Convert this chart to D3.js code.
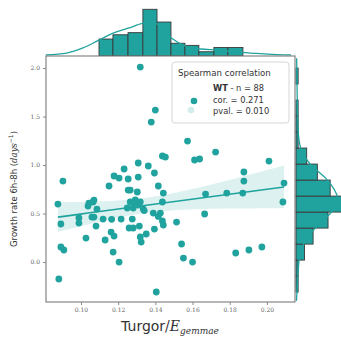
<!DOCTYPE html>
<html>
<head>
<meta charset="utf-8">
<script src="https://cdn.jsdelivr.net/npm/d3@7"></script>
<style>
  body { margin: 0; background: #fff; }
  svg { display: block; }
</style>
</head>
<body>
<script>
// scatter values (turgor / E, growth rate)
var turgor = [0.1319,0.1400,0.1378,0.1573,0.1724,0.1438,0.1454,0.1611,0.1638,0.2011,
  0.1308,0.1362,0.1232,0.1395,0.1876,0.1178,0.1205,0.1254,0.1308,0.0903,
  0.1876,0.2092,0.1151,0.1416,0.1254,0.1265,0.1303,0.1443,0.1670,0.1784,
  0.1870,0.1043,0.1065,0.1070,0.1038,0.1265,0.1292,0.1319,0.1308,0.1438,
  0.0876,0.2086,0.1086,0.1281,0.1335,0.1249,0.1389,0.1427,0.1438,0.1443,
  0.1514,0.1665,0.0892,0.0989,0.0989,0.1070,0.1119,0.1216,0.1276,0.1081,
  0.1259,0.1281,0.1314,0.1351,0.1395,0.1319,0.1324,0.1162,0.1178,0.1027,
  0.1130,0.1541,0.0892,0.0908,0.1173,0.1551,0.1205,0.1600,0.1832,0.1903,
  0.1973,0.0881,0.1405,0.1059,0.1292,0.1340,0.1165,0.1416];
var growth = [2.010,1.567,1.443,1.247,1.134,1.093,1.082,1.052,1.062,1.041,
  1.021,0.990,0.959,0.918,0.928,0.887,0.866,0.856,0.876,0.835,
  0.835,0.814,0.784,0.784,0.742,0.742,0.722,0.711,0.701,0.711,
  0.711,0.608,0.619,0.639,0.577,0.619,0.608,0.619,0.588,0.619,
  0.598,0.619,0.546,0.557,0.546,0.557,0.505,0.505,0.423,0.381,
  0.412,0.495,0.392,0.402,0.454,0.464,0.443,0.443,0.443,0.371,
  0.351,0.351,0.371,0.289,0.340,0.258,0.206,0.309,0.268,0.247,
  0.227,0.186,0.155,0.124,0.103,0.041,0.000,0.000,0.093,0.124,
  0.155,-0.175,-0.309,0.464,0.640,0.530,0.440,0.470];

// marginal histograms
var topEdges = [0.1097,0.1172,0.1253,0.1333,0.1409,0.1484,0.1559,0.1634,0.1715,0.1790,0.1871];
var topCounts = [8,10,11,22,16,6,5,2,4,4];
var rightEdges = [-0.31,-0.145,0.02,0.185,0.35,0.515,0.68,0.845,1.01,1.175,1.34,1.505,1.67,1.835,2.0];
var rightCounts = [1,1,4,8,15,24,16,10,5,1,1,1,0,1];

// kde curves of the marginals, in count units
var topKdeX = [0.0811,0.0924,0.1011,0.1097,0.1173,0.1254,0.1335,0.1373,0.1411,0.1486,0.1562,0.1643,0.1735,0.1822,0.1914,0.2005,0.2130];
var topKdeY = [0.5,1.4,3.8,7.5,10.8,13.1,15.5,16,15,8.5,4.7,3.3,2.8,1.9,1.4,0.9,0.5];
var rightKdeY = [-0.40,-0.3,-0.1,0.1,0.2,0.3,0.43,0.55,0.62,0.7,0.85,1.0,1.17,1.3,1.5,1.8,2.1];
var rightKdeX = [0.2,0.5,1,2,4,7,13,18,20,19,14.5,7,2.3,1.2,0.8,0.5,0.3];

var xTicks = [0.10,0.12,0.14,0.16,0.18,0.20];
var yTicks = [0.0,0.5,1.0,1.5,2.0];
var legendLines = ['cor. = 0.271', 'pval. = 0.010'];

var teal = '#20a39e';
var width = 341, height = 341;

var svg = d3.select('body').append('svg').attr('width', width).attr('height', height);

var x = d3.scaleLinear().domain([0.0812, 0.2151]).range([46, 295]);
var y = d3.scaleLinear().domain([-0.412, 2.124]).range([302, 56]);
var topC = d3.scaleLinear().domain([0, 22]).range([56, 9.3]);
var rightC = d3.scaleLinear().domain([0, 22]).range([296, 343]);

// top histogram
svg.append('g').selectAll('rect')
  .data(topCounts)
  .enter()
  .append('rect')
  .attr('x', function (d, i) { return x(topEdges[i]); })
  .attr('width', function (d, i) { return x(topEdges[i + 1]) - x(topEdges[i]); })
  .attr('y', function (d) { return topC(d); })
  .attr('height', function (d) { return topC(0) - topC(d); })
  .attr('fill', teal)
  .attr('stroke', '#3a3a3a')
  .attr('stroke-width', 0.9);

svg.append('path')
  .datum(topKdeX)
  .attr('d', d3.line()
    .x(function (d) { return x(d); })
    .y(function (d, i) { return topC(topKdeY[i]); })
    .curve(d3.curveMonotoneX))
  .attr('fill', 'none')
  .attr('stroke', teal)
  .attr('stroke-width', 1.3);

// right histogram
svg.append('g').selectAll('rect')
  .data(rightCounts)
  .enter()
  .append('rect')
  .attr('x', rightC(0))
  .attr('width', function (d) { return rightC(d) - rightC(0); })
  .attr('y', function (d, i) { return y(rightEdges[i + 1]); })
  .attr('height', function (d, i) { return y(rightEdges[i]) - y(rightEdges[i + 1]); })
  .attr('fill', teal)
  .attr('stroke', '#3a3a3a')
  .attr('stroke-width', function (d) { return d > 0 ? 0.9 : 0; });

svg.append('path')
  .datum(rightKdeY)
  .attr('d', d3.line()
    .y(function (d) { return y(d); })
    .x(function (d, i) { return rightC(rightKdeX[i]); })
    .curve(d3.curveMonotoneY))
  .attr('fill', 'none')
  .attr('stroke', teal)
  .attr('stroke-width', 1.3);

// main panel
svg.append('rect')
  .attr('x', 46).attr('y', 56).attr('width', 249).attr('height', 246)
  .attr('fill', '#fff');

// regression fit + 95% band from the data
var n = turgor.length;
var mx = d3.mean(turgor), my = d3.mean(growth);
var sxx = d3.sum(turgor, function (d) { return (d - mx) * (d - mx); });
var sxy = d3.sum(turgor, function (d, i) { return (d - mx) * (growth[i] - my); });
var slope = sxy / sxx, icpt = my - slope * mx;
var s = Math.sqrt(d3.sum(turgor, function (d, i) {
  var r = growth[i] - (icpt + slope * d); return r * r; }) / (n - 2));
var xs = d3.range(0, 41).map(function (i) {
  return d3.min(turgor) + i * (d3.max(turgor) - d3.min(turgor)) / 40; });

svg.append('path')
  .datum(xs)
  .attr('d', d3.area()
    .x(function (d) { return x(d); })
    .y0(function (d) { return y(icpt + slope * d - 1.99 * s * Math.sqrt(1 / n + (d - mx) * (d - mx) / sxx)); })
    .y1(function (d) { return y(icpt + slope * d + 1.99 * s * Math.sqrt(1 / n + (d - mx) * (d - mx) / sxx)); }))
  .attr('fill', teal)
  .attr('fill-opacity', 0.15);

svg.append('g').selectAll('circle')
  .data(turgor)
  .enter()
  .append('circle')
  .attr('cx', function (d) { return x(d); })
  .attr('cy', function (d, i) { return y(growth[i]); })
  .attr('r', 3.4)
  .attr('fill', teal);

svg.append('path')
  .datum(xs)
  .attr('d', d3.line()
    .x(function (d) { return x(d); })
    .y(function (d) { return y(icpt + slope * d); }))
  .attr('fill', 'none')
  .attr('stroke', teal)
  .attr('stroke-width', 1.6);

svg.append('rect')
  .attr('x', 46).attr('y', 56).attr('width', 249).attr('height', 246)
  .attr('fill', 'none')
  .attr('stroke', '#7a7a7a')
  .attr('stroke-width', 1.1);

// axes
var xAxis = svg.append('g')
  .attr('transform', 'translate(0,302)')
  .call(d3.axisBottom(x).tickValues(xTicks).tickSize(3).tickFormat(d3.format('.2f')));
var yAxis = svg.append('g')
  .attr('transform', 'translate(46,0)')
  .call(d3.axisLeft(y).tickValues(yTicks).tickSize(3).tickFormat(d3.format('.1f')));
[xAxis, yAxis].forEach(function (a) {
  a.select('.domain').remove();
  a.selectAll('line').attr('stroke', '#888');
  a.selectAll('text')
    .attr('font-family', 'DejaVu Serif')
    .attr('font-size', 6)
    .attr('fill', '#666');
});

// axis labels
var xl = svg.append('text')
  .attr('x', 170).attr('y', 331)
  .attr('text-anchor', 'middle')
  .attr('fill', '#333');
xl.append('tspan').attr('font-family', 'DejaVu Sans').attr('font-size', 14).text('Turgor');
xl.append('tspan').attr('font-family', 'DejaVu Serif').attr('font-size', 14).text('/');
xl.append('tspan').attr('font-family', 'DejaVu Serif').attr('font-style', 'italic').attr('font-size', 14).text('E');
xl.append('tspan').attr('font-family', 'DejaVu Serif').attr('font-style', 'italic').attr('font-size', 9).attr('dy', 3).text('gemmae');

var yl = svg.append('text')
  .attr('transform', 'translate(17,189) rotate(-90)')
  .attr('text-anchor', 'middle')
  .attr('fill', '#333')
  .attr('font-family', 'DejaVu Sans')
  .attr('font-size', 8.5);
yl.append('tspan').text('Growth rate 6h-8h (');
yl.append('tspan').attr('font-family', 'DejaVu Serif').attr('font-style', 'italic').text('days');
yl.append('tspan').attr('font-size', 6).attr('dy', -4).text('\u22121');
yl.append('tspan').attr('dy', 4).text(')');

// legend
var lg = svg.append('g');
lg.append('rect')
  .attr('x', 172).attr('y', 62).attr('width', 117).attr('height', 61)
  .attr('rx', 3)
  .attr('fill', '#fff').attr('fill-opacity', 0.85)
  .attr('stroke', '#d6d6d6');
lg.append('text')
  .attr('x', 178).attr('y', 75.5)
  .attr('font-family', 'DejaVu Sans').attr('font-size', 8.6).attr('fill', '#333')
  .text('Spearman correlation');
var wt = lg.append('text')
  .attr('x', 213).attr('y', 91)
  .attr('font-family', 'DejaVu Sans').attr('font-size', 8.3).attr('fill', '#333');
wt.append('tspan').attr('font-weight', 'bold').text('WT');
wt.append('tspan').text(' - n = ' + n);
lg.selectAll('text.ln')
  .data(legendLines)
  .enter()
  .append('text')
  .attr('class', 'ln')
  .attr('x', 213)
  .attr('y', function (d, i) { return 102.5 + i * 11.5; })
  .attr('font-family', 'DejaVu Sans').attr('font-size', 8.3).attr('fill', '#333')
  .text(function (d) { return d; });
lg.append('circle').attr('cx', 194).attr('cy', 101).attr('r', 3.3).attr('fill', teal);
lg.append('circle').attr('cx', 191).attr('cy', 110).attr('r', 3.3).attr('fill', teal).attr('fill-opacity', 0.2);
</script>
</body>
</html>
